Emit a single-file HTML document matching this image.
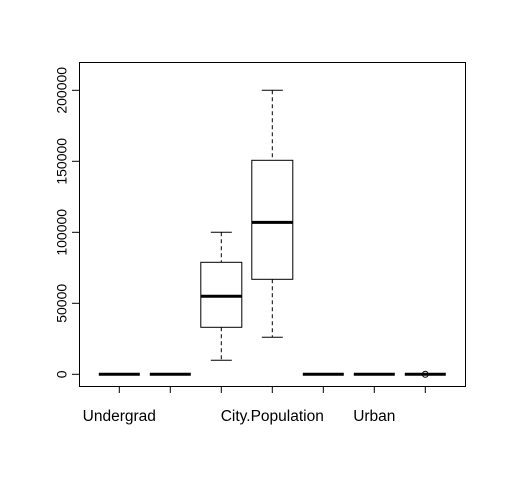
<!DOCTYPE html>
<html><head><meta charset="utf-8"><style>
body{margin:0;background:#fff}
svg{display:block;font-family:"Liberation Sans",Arial,sans-serif}
</style></head><body>
<svg id="c" width="506" height="484" viewBox="0 0 506 484"></svg>
<script>
const categories=["Undergrad","g2","g3","City.Population","g5","Urban","g7"];
const shownLabels=["Undergrad","","","City.Population","","Urban",""];
const whiskLo=[0,0,9860,26060,0,0,0];
const q1=[0,0,33100,66900,0,0,0];
const medians=[0,0,54930,107000,0,0,0];
const q3=[0,0,78870,150700,0,0,0];
const whiskHi=[0,0,100000,200000,0,0,0];
const outliers=[[],[],[],[],[],[],[0]];
const yTicks=[0,50000,100000,150000,200000];

const NS="http://www.w3.org/2000/svg";
const svg=document.getElementById('c');
function y(v){return 374.3-v*284/200000;}
function x(i){return 119.3+i*51;}
function el(t,a,p){const e=document.createElementNS(NS,t);for(const k in a)e.setAttribute(k,a[k]);(p||svg).appendChild(e);return e;}

const frame=el('rect',{x:79.5,y:62.5,width:386,height:324,fill:'none',stroke:'#000','stroke-width':1});



const ya=el('g',{});


el('line',{x1:79.5,x2:79.5,y1:y(200000),y2:y(0),stroke:'#000'},ya);
yTicks.forEach(v=>{
  el('line',{x1:72,x2:79.5,y1:y(v),y2:y(v),stroke:'#000'},ya);
  const t=el('text',{x:0,y:0,'font-size':14,'text-anchor':'middle',transform:`translate(66.5,${y(v)}) rotate(-90)`},ya);
  t.textContent=v;
  
  
});

const xa=el('g',{});


el('line',{x1:x(0),x2:x(categories.length-1),y1:386.5,y2:386.5,stroke:'#000'},xa);
categories.forEach((c,i)=>{
  el('line',{x1:x(i),x2:x(i),y1:386.5,y2:393,stroke:'#000'},xa);
  if(shownLabels[i]){
    const t=el('text',{x:x(i),y:421,'font-size':15.5,'text-anchor':'middle'},xa);
    t.textContent=shownLabels[i];
    
    
  }
});

categories.forEach((c,i)=>{
  const g=el('g',{});
  
  
  const cx=x(i),hw=20.5;
  el('line',{x1:cx,x2:cx,y1:y(whiskHi[i]),y2:y(q3[i]),stroke:'#000','stroke-dasharray':'4,3'},g);
  el('line',{x1:cx,x2:cx,y1:y(q1[i]),y2:y(whiskLo[i]),stroke:'#000','stroke-dasharray':'4,3'},g);
  el('line',{x1:cx-10.5,x2:cx+10.5,y1:y(whiskHi[i]),y2:y(whiskHi[i]),stroke:'#000'},g);
  el('line',{x1:cx-10.5,x2:cx+10.5,y1:y(whiskLo[i]),y2:y(whiskLo[i]),stroke:'#000'},g);
  el('rect',{x:cx-hw,y:y(q3[i]),width:2*hw,height:Math.max(0,y(q1[i])-y(q3[i])),fill:'none',stroke:'#000'},g);
  el('line',{x1:cx-hw,x2:cx+hw,y1:y(medians[i]),y2:y(medians[i]),stroke:'#000','stroke-width':3},g);
  outliers[i].forEach(o=>{
    const p=el('circle',{cx:cx,cy:y(o),r:3,fill:'none',stroke:'#000'},g);
    
    
  });
});
</script>
</body></html>
